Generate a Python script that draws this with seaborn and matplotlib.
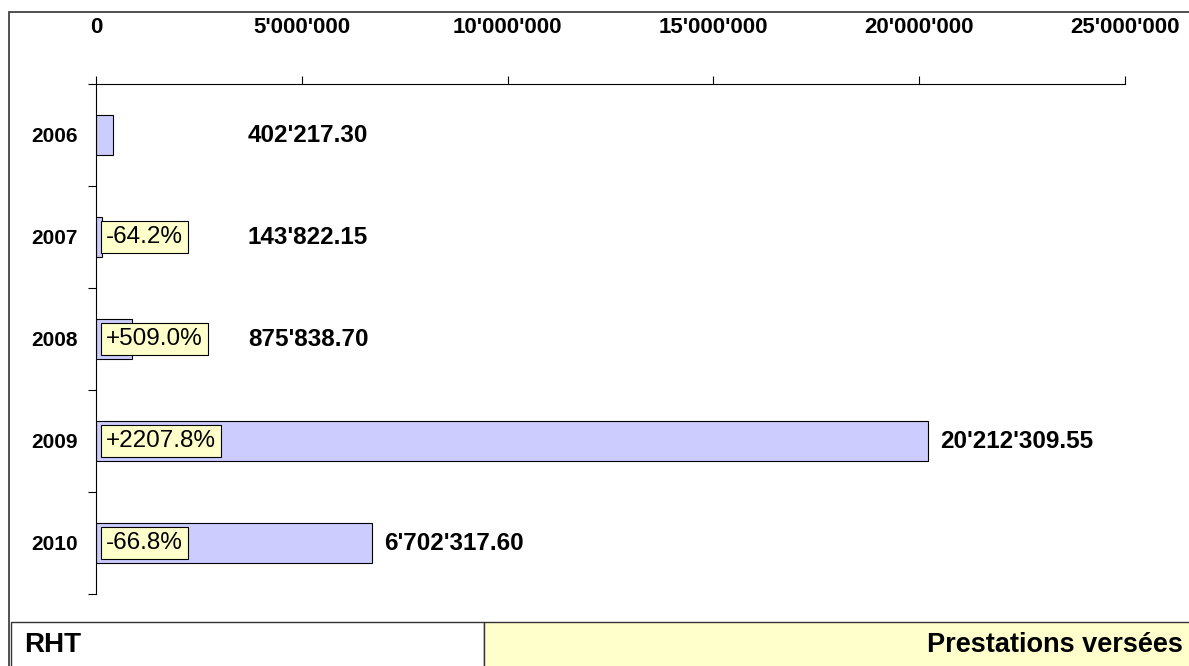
import matplotlib
matplotlib.use('Agg')
import matplotlib.pyplot as plt
import seaborn as sns
from matplotlib.patches import Rectangle
from matplotlib.ticker import FuncFormatter
from matplotlib.transforms import offset_copy

# données
annees = ['2006', '2007', '2008', '2009', '2010']
montants = [402217.30, 143822.15, 875838.70, 20212309.55, 6702317.60]
etiquettes = ["402'217.30", "143'822.15", "875'838.70", "20'212'309.55", "6'702'317.60"]
variations = ['', '-64.2%', '+509.0%', '+2207.8%', '-66.8%']

sns.set_style('white')
plt.rcParams['font.family'] = ['Liberation Sans', 'DejaVu Sans']
plt.rcParams['text.color'] = 'black'
plt.rcParams['xtick.color'] = 'black'
plt.rcParams['ytick.color'] = 'black'

W, H = 1189, 666
fig = plt.figure(figsize=(W / 100, H / 100), dpi=100)
ax = fig.add_axes([96 / W, 1 - 594 / H, (1125 - 96) / W, (594 - 84) / H])

sns.barplot(x=montants, y=annees, orient='h', color='#CCCCFF', saturation=1,
            edgecolor='black', linewidth=0.8, width=0.4, ax=ax)

ax.set_xlim(0, 25000000)
ax.set_ylim(4.5, -0.5)

# axe x en haut
ax.xaxis.tick_top()
ax.set_xticks([0, 5e6, 10e6, 15e6, 20e6, 25e6])
ax.xaxis.set_major_formatter(FuncFormatter(lambda v, p: f"{int(v):,}".replace(',', "'")))
ax.tick_params(axis='x', which='major', direction='out', length=6, width=0.8,
               pad=27, labelsize=16)
for t in ax.get_xticklabels():
    t.set_fontweight('bold')

# axe y: graduations entre les catégories
ax.set_yticks(range(len(annees)))
ax.set_yticklabels(annees, fontweight='bold')
ax.set_yticks([i - 0.5 for i in range(len(annees) + 1)], minor=True)
ax.tick_params(axis='y', which='major', length=0, pad=13, labelsize=15)
ax.tick_params(axis='y', which='minor', direction='out', length=6, width=0.8, left=True)
ax.set_xlabel('')
ax.set_ylabel('')

for s in ['right', 'bottom']:
    ax.spines[s].set_visible(False)
for s in ['top', 'left']:
    ax.spines[s].set_color('black')
    ax.spines[s].set_linewidth(0.8)

# étiquettes de valeurs et variations
for i, (v, lab, var) in enumerate(zip(montants, etiquettes, variations)):
    x = max(v, 3.4e6)
    ax.text(x, i, lab, transform=offset_copy(ax.transData, fig=fig, x=12, y=0, units='dots'),
            ha='left', va='center', fontsize=17.5, fontweight='bold')
    if var:
        ax.text(0, i, var, transform=offset_copy(ax.transData, fig=fig, x=10, y=0, units='dots'),
                ha='left', va='center', fontsize=17.5,
                bbox=dict(boxstyle='square,pad=0.2', facecolor='#FFFFCC',
                          edgecolor='black', linewidth=0.8))

# cadre et bandeau du bas
fig.patches.append(Rectangle((9 / W, -0.1), 1.2, 1 - 12 / H + 0.1, transform=fig.transFigure,
                             fill=False, edgecolor='#333333', linewidth=1.2))
fig.patches.append(Rectangle((11 / W, -0.1), (484 - 11) / W, 0.1 + 44 / H, transform=fig.transFigure,
                             facecolor='white', edgecolor='#333333', linewidth=1.0))
fig.patches.append(Rectangle((484 / W, -0.1), 1, 0.1 + 44 / H, transform=fig.transFigure,
                             facecolor='#FFFFCC', edgecolor='#333333', linewidth=1.0))
fig.text(24 / W, 1 - 645 / H, 'RHT', fontsize=20, fontweight='bold', ha='left', va='center')
fig.text(1183 / W, 1 - 645 / H, 'Prestations versées', fontsize=19.5, fontweight='bold',
         ha='right', va='center')

fig.savefig('out.png', dpi=100)
